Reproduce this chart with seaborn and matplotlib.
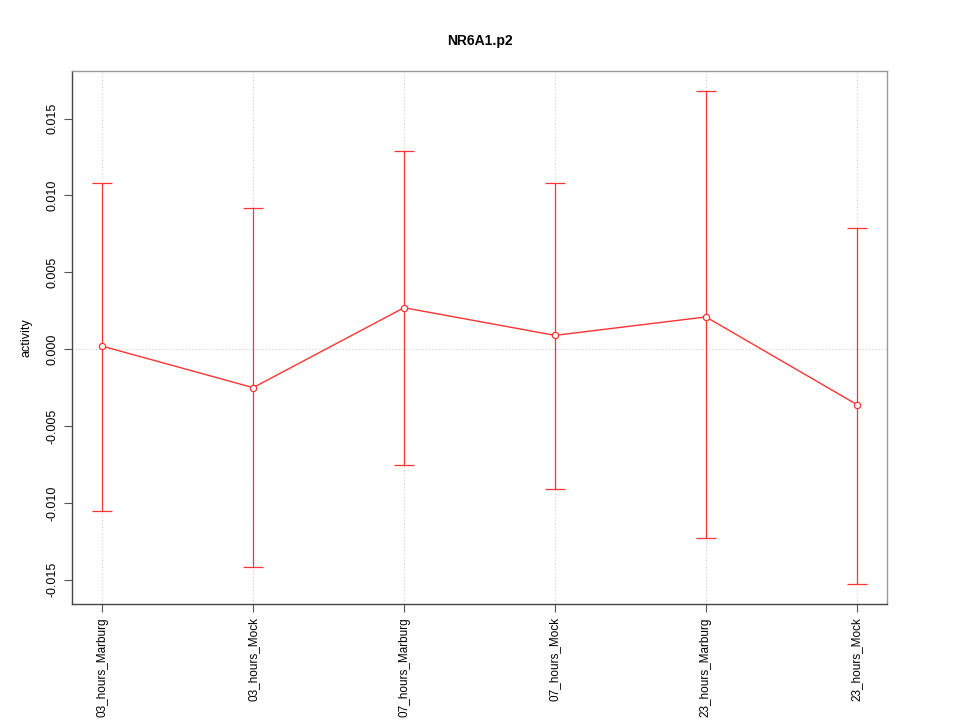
import seaborn as sns
import matplotlib.pyplot as plt
import pandas as pd
import numpy as np

conditions = ["03_hours_Marburg", "03_hours_Mock", "07_hours_Marburg",
              "07_hours_Mock", "23_hours_Marburg", "23_hours_Mock"]
activity = [0.0002, -0.0025, 0.0027, 0.0009, 0.0021, -0.0036]
upper = [0.0108, 0.0092, 0.0129, 0.0108, 0.0168, 0.0079]
lower = [-0.0105, -0.0142, -0.0075, -0.0091, -0.0123, -0.0153]
y_ticks = [-0.015, -0.010, -0.005, 0.000, 0.005, 0.010, 0.015]


def main():
    sns.set_style("white", {"text.color": "black", "axes.labelcolor": "black",
                            "xtick.color": "black", "ytick.color": "black"})
    plt.rcParams['font.family'] = ['Liberation Sans', 'DejaVu Sans']
    df = pd.DataFrame({"x": np.arange(1, len(conditions) + 1), "y": activity,
                       "lo": lower, "hi": upper})

    fig = plt.figure(figsize=(9.6, 7.2), dpi=100)
    ax = fig.add_axes([0.075, 0.161, 0.849, 0.74])

    for xv in df["x"]:
        ax.axvline(xv, color="#cccccc", linestyle=(0, (1, 2)), linewidth=0.8, zorder=0)
    ax.axhline(0, color="#cccccc", linestyle=(0, (1, 2)), linewidth=0.8, zorder=0)

    ax.errorbar(df["x"], df["y"],
                yerr=[df["y"] - df["lo"], df["hi"] - df["y"]],
                fmt="none", ecolor="#ff3333", elinewidth=0.9, capsize=7,
                capthick=0.9, zorder=2)
    sns.lineplot(data=df, x="x", y="y", ax=ax, color="#ff3333", linewidth=1,
                 marker="o", markersize=4.5, markerfacecolor="white",
                 markeredgecolor="#ff3333", markeredgewidth=0.9, zorder=3)

    ax.set_xlim(0.8, 6.2)
    ax.set_ylim(-0.01658, 0.01808)
    ax.set_xticks(df["x"])
    ax.set_xticklabels(conditions, rotation=90, fontsize=8.5)
    ax.set_yticks(y_ticks)
    ax.set_yticklabels([f"{t:.3f}" for t in y_ticks], rotation=90,
                       va="center", fontsize=9)
    ax.tick_params(axis="both", length=6, width=0.8, color="#555555",
                   bottom=True, left=True)
    ax.set_xlabel("")
    ax.set_ylabel("activity", fontsize=9, labelpad=10)
    ax.set_title("NR6A1.p2", fontsize=10, fontweight="bold", pad=19)
    for side in ["top", "right"]:
        ax.spines[side].set_color("#999999")
    for side in ["left", "bottom"]:
        ax.spines[side].set_color("#444444")
    for s in ax.spines.values():
        s.set_linewidth(1)

    fig.savefig("out.png", dpi=100)


if __name__ == '__main__':
    main()
